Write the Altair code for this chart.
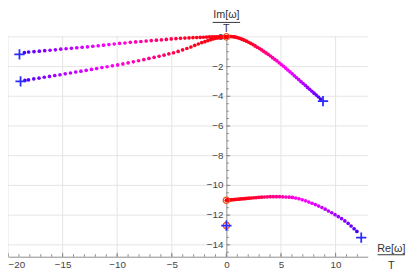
import altair as alt
import pandas as pd

FONT = "Liberation Sans"
XMIN, XMAX = -20.0, 12.95
YMIN, YMAX = -14.8, 0.05
W, H = 367, 225
X0 = (0 - XMIN) / (XMAX - XMIN) * W

# ---- data ----
a_x = [0.00, 0.04, 0.09, 0.15, 0.22, 0.30, 0.39, 0.49, 0.60, 0.72, 0.85, 0.99, 1.14, 1.30, 1.47, 1.65, 1.84,
       2.03, 2.23, 2.43, 2.63, 2.83, 3.03, 3.23, 3.43, 3.63, 3.83, 4.03, 4.23, 4.43, 4.63, 4.83, 5.03, 5.23,
       5.43, 5.63, 5.83, 6.03, 6.23, 6.43, 6.63, 6.83, 7.03, 7.23, 7.43, 7.63, 7.83, 8.03, 8.23, 8.43, 8.63]
a_y = [0.00, 0.005, 0.01, 0.015, 0.02, 0.025, 0.025, 0.02, 0.01, 0.0, -0.02, -0.05, -0.08, -0.12, -0.17, -0.22,
       -0.29, -0.36, -0.44, -0.52, -0.61, -0.70, -0.79, -0.88, -0.98, -1.08, -1.18, -1.29, -1.40, -1.51, -1.62,
       -1.74, -1.86, -1.98, -2.10, -2.23, -2.36, -2.49, -2.62, -2.75, -2.88, -3.01, -3.14, -3.27, -3.40, -3.53,
       -3.66, -3.79, -3.92, -4.05, -4.18]

b_x = [0, -0.05, -0.12, -0.2, -0.3, -0.42, -0.56, -0.72, -0.9, -1.1, -1.32, -1.56, -1.82, -2.1, -2.4, -2.72,
       -3.06, -3.42, -3.8, -4.2, -4.62, -5.05, -5.5, -5.95, -6.41, -6.88, -7.35, -7.83, -8.31, -8.8, -9.29,
       -9.78, -10.27, -10.76, -11.25, -11.74, -12.23, -12.72, -13.21, -13.7, -14.19, -14.68, -15.17, -15.66,
       -16.15, -16.64, -17.13, -17.62, -18.11, -18.5]
b_y = [0, 0.0, 0.005, 0.01, 0.01, 0.01, 0.01, 0.01, 0.01, 0.005, 0.0, -0.005, -0.015, -0.025, -0.035, -0.045,
       -0.055, -0.07, -0.08, -0.10, -0.12, -0.14, -0.17, -0.20, -0.22, -0.25, -0.28, -0.31, -0.34, -0.37,
       -0.41, -0.44, -0.48, -0.52, -0.56, -0.60, -0.63, -0.67, -0.70, -0.73, -0.77, -0.80, -0.83, -0.87,
       -0.90, -0.93, -0.96, -0.99, -1.02, -1.05]

c_x = [0, -0.04, -0.1, -0.17, -0.26, -0.37, -0.5, -0.65, -0.82, -1.01, -1.22, -1.45, -1.7, -1.97, -2.26, -2.57,
       -2.9, -3.25, -3.62, -4.01, -4.42, -4.84, -5.27, -5.71, -6.16, -6.62, -7.09, -7.56, -8.04, -8.52, -9.0,
       -9.48, -9.96, -10.44, -10.92, -11.4, -11.88, -12.36, -12.84, -13.32, -13.8, -14.28, -14.76, -15.24,
       -15.72, -16.2, -16.68, -17.16, -17.64, -18.12, -18.45]
c_y = [0, -0.005, -0.01, -0.015, -0.02, -0.03, -0.04, -0.06, -0.08, -0.10, -0.14, -0.19, -0.25, -0.32, -0.39,
       -0.48, -0.57, -0.68, -0.78, -0.88, -0.98, -1.07, -1.15, -1.23, -1.31, -1.38, -1.45, -1.53, -1.61, -1.68,
       -1.75, -1.82, -1.89, -1.95, -2.01, -2.07, -2.13, -2.19, -2.25, -2.31, -2.37, -2.43, -2.49, -2.55, -2.60,
       -2.66, -2.72, -2.78, -2.83, -2.89, -2.93]

d_x = [0, 0.03, 0.07, 0.12, 0.18, 0.25, 0.33, 0.42, 0.52, 0.63, 0.75, 0.88, 1.02, 1.17, 1.33, 1.5, 1.68, 1.87,
       2.07, 2.28, 2.5, 2.73, 2.97, 3.22, 3.48, 3.75, 4.02, 4.3, 4.58, 4.87, 5.16, 5.45, 5.75, 6.05, 6.35, 6.65,
       6.95, 7.25, 7.55, 7.85, 8.15, 8.45, 8.75, 9.05, 9.35, 9.65, 9.95, 10.25, 10.55, 10.85, 11.15, 11.42,
       11.7, 11.95]
d_y = [-11.0, -11.0, -10.995, -10.99, -10.99, -10.98, -10.975, -10.97, -10.965, -10.96, -10.95, -10.94, -10.93,
       -10.92, -10.91, -10.9, -10.89, -10.87, -10.86, -10.85, -10.83, -10.82, -10.80, -10.79, -10.78, -10.77,
       -10.76, -10.76, -10.76, -10.76, -10.77, -10.78, -10.79, -10.81, -10.85, -10.9, -10.97, -11.04, -11.12,
       -11.2, -11.29, -11.39, -11.49, -11.6, -11.72, -11.84, -11.97, -12.1, -12.24, -12.39, -12.56, -12.73,
       -12.92, -13.1]

start_x = [0, 0, 0]
start_y = [0, -11.0, -12.7]
end_x = [8.85, -18.95, -18.85, 12.35, 0]
end_y = [-4.33, -1.18, -3.0, -13.52, -12.7]

x_major = [-20, -15, -10, -5, 0, 5, 10]
x_minor = list(range(-20, 13))
y_major = [0, -2, -4, -6, -8, -10, -12, -14]
y_labels = ["0", "−2", "−4", "−6", "−8", "−10", "−12", "−14"]
y_minor = [v / 2 for v in range(-29, 1)]
x_grid = [-20, -15, -10, -5, 5, 10]
y_grid = [0, -2, -4, -6, -8, -10, -12, -14]


def branch(xs, ys):
    n = len(xs)
    return pd.DataFrame({"x": xs, "y": ys, "t": [i / (n - 1) for i in range(n)]})


pts = pd.concat([branch(a_x, a_y), branch(b_x, b_y), branch(c_x, c_y), branch(d_x, d_y)], ignore_index=True)
starts = pd.DataFrame({"x": start_x, "y": start_y})
ends = pd.DataFrame({"x": end_x, "y": end_y})

xs = alt.Scale(domain=[XMIN, XMAX], nice=False, zero=False)
ys = alt.Scale(domain=[YMIN, YMAX], nice=False, zero=False)
x_axis = alt.Axis(values=x_major, title=None, grid=False, ticks=False, domain=True, domainColor="#8a8a8a",
                  labelFont=FONT, labelFontSize=10, labelColor="#444444", labelPadding=3, labelOverlap=False,
                  labelFlush=True, format="~g")
y_axis = alt.Axis(values=y_major, title=None, grid=False, ticks=False, domain=True, domainColor="#8a8a8a",
                  offset=-X0, labels=False)


def X(f):
    return alt.X(f, type="quantitative", scale=xs, axis=x_axis)


def Y(f):
    return alt.Y(f, type="quantitative", scale=ys, axis=y_axis)


gridx = alt.Chart(pd.DataFrame({"v": x_grid})).mark_rule(color="#e4e4e4", strokeWidth=1).encode(x=X("v"))
gridy = alt.Chart(pd.DataFrame({"v": y_grid})).mark_rule(color="#e4e4e4", strokeWidth=1).encode(y=Y("v"))

tick_col = "#8a8a8a"
xt_major = alt.Chart(pd.DataFrame({"v": x_major})).mark_rule(color=tick_col).encode(
    x=X("v"), y=alt.value(H), y2=alt.value(H - 4))
xt_minor = alt.Chart(pd.DataFrame({"v": x_minor})).mark_rule(color=tick_col).encode(
    x=X("v"), y=alt.value(H), y2=alt.value(H - 2.5))
yt_major = alt.Chart(pd.DataFrame({"v": y_major})).mark_rule(color=tick_col).encode(
    y=Y("v"), x=alt.value(X0), x2=alt.value(X0 + 4))
yt_minor = alt.Chart(pd.DataFrame({"v": y_minor})).mark_rule(color=tick_col).encode(
    y=Y("v"), x=alt.value(X0), x2=alt.value(X0 + 2.5))
ylab = alt.Chart(pd.DataFrame({"v": y_major, "s": y_labels})).mark_text(
    font=FONT, fontSize=10, color="#444444", align="right", baseline="middle").encode(
    y=Y("v"), x=alt.value(X0 - 3), text="s:N")

dots = alt.Chart(pts).mark_circle(size=14, opacity=1).encode(
    x=X("x"), y=Y("y"),
    color=alt.Color("t:Q", scale=alt.Scale(domain=[0, 0.35, 0.68, 1],
                                           range=["#ff0000", "#ff0020", "#ff00ff", "#4400ff"]),
                    legend=None))

circ = alt.Chart(starts).mark_point(shape="circle", filled=False, size=42, strokeWidth=1.3,
                                    color="#ee5522", opacity=1).encode(x=X("x"), y=Y("y"))
plus = alt.Chart(ends).mark_point(shape="M-1,0H1M0,-1V1", filled=False, size=110, strokeWidth=1.8,
                                  color="#2b2bff", opacity=1).encode(x=X("x"), y=Y("y"))

lab_col = "#333333"
im_t = alt.Chart().mark_text(text="Im[ω]", font=FONT, fontSize=11, color=lab_col, baseline="middle").encode(
    x=alt.value(X0), y=alt.value(-21))
im_l = alt.Chart().mark_rule(color=lab_col, strokeWidth=1).encode(
    x=alt.value(X0 - 14), x2=alt.value(X0 + 14), y=alt.value(-14))
im_b = alt.Chart().mark_text(text="T", font=FONT, fontSize=11, color=lab_col, baseline="middle").encode(
    x=alt.value(X0), y=alt.value(-7.5))
re_t = alt.Chart().mark_text(text="Re[ω]", font=FONT, fontSize=11, color=lab_col, baseline="middle").encode(
    x=alt.value(391), y=alt.value(217))
re_l = alt.Chart().mark_rule(color=lab_col, strokeWidth=1).encode(
    x=alt.value(377), x2=alt.value(405), y=alt.value(223))
re_b = alt.Chart().mark_text(text="T", font=FONT, fontSize=11, color=lab_col, baseline="middle").encode(
    x=alt.value(391), y=alt.value(234.5))

chart = alt.layer(gridx, gridy, xt_major, xt_minor, yt_major, yt_minor, ylab, dots, circ, plus,
                  im_t, im_l, im_b, re_t, re_l, re_b).properties(
    width=W, height=H, autosize="none",
    padding={"left": 0, "top": 26, "right": 40, "bottom": 18},
).configure_view(stroke=None)

chart.save("out.html", embed_options={"renderer": "svg", "actions": False})
